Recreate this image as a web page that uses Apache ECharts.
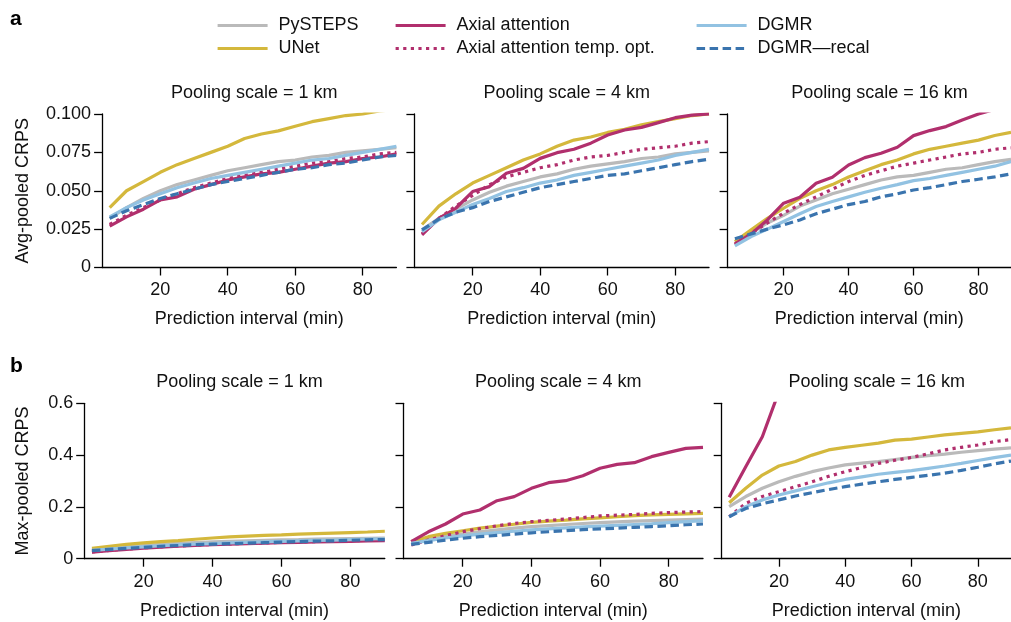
<!DOCTYPE html>
<html>
<head>
<meta charset="utf-8">
<script src="https://cdn.jsdelivr.net/npm/echarts@6/dist/echarts.min.js"></script>
<style>
  html, body { margin: 0; padding: 0; background: #ffffff; }
  #chart { width: 1011px; height: 622px; }
</style>
</head>
<body>
<div id="chart"></div>
<script>
// Prediction lead times (minutes) and the axis ticks shown
const minutes = [5, 10, 15, 20, 25, 30, 35, 40, 45, 50, 55, 60, 65, 70, 75, 80, 85, 90];
const tickMinutes = [20, 40, 60, 80];
const modelNames = ['PySTEPS', 'UNet', 'Axial attention', 'Axial attention temp. opt.', 'DGMR', 'DGMR\u2014recal'];
const scaleTitles = ['Pooling scale = 1 km', 'Pooling scale = 4 km', 'Pooling scale = 16 km'];

// (a) Avg-pooled CRPS, pooling scale 1 km
const avg1_pysteps = [0.032, 0.039, 0.045, 0.050, 0.054, 0.057, 0.060, 0.063, 0.065, 0.067, 0.069, 0.070, 0.072, 0.073, 0.075, 0.076, 0.077, 0.078];
const avg1_unet    = [0.039, 0.050, 0.056, 0.062, 0.067, 0.071, 0.075, 0.079, 0.084, 0.087, 0.089, 0.092, 0.095, 0.097, 0.099, 0.100, 0.102, 0.103];
const avg1_axial   = [0.027, 0.033, 0.038, 0.044, 0.046, 0.051, 0.054, 0.057, 0.059, 0.061, 0.062, 0.064, 0.066, 0.068, 0.069, 0.071, 0.072, 0.074];
const avg1_axialT  = [0.028, 0.034, 0.039, 0.044, 0.048, 0.052, 0.055, 0.058, 0.060, 0.062, 0.064, 0.066, 0.068, 0.069, 0.071, 0.072, 0.074, 0.075];
const avg1_dgmr    = [0.033, 0.039, 0.044, 0.048, 0.052, 0.055, 0.058, 0.060, 0.062, 0.064, 0.066, 0.068, 0.070, 0.071, 0.073, 0.075, 0.077, 0.079];
const avg1_recal   = [0.032, 0.037, 0.041, 0.045, 0.048, 0.051, 0.054, 0.056, 0.058, 0.060, 0.062, 0.064, 0.065, 0.067, 0.068, 0.070, 0.072, 0.073];

// (a) Avg-pooled CRPS, pooling scale 4 km
const avg4_pysteps = [0.0245, 0.032, 0.038, 0.044, 0.049, 0.053, 0.056, 0.059, 0.061, 0.064, 0.066, 0.0675, 0.069, 0.071, 0.072, 0.074, 0.075, 0.076];
const avg4_unet    = [0.028, 0.040, 0.048, 0.055, 0.060, 0.065, 0.070, 0.074, 0.079, 0.083, 0.085, 0.088, 0.090, 0.093, 0.095, 0.097, 0.099, 0.100];
const avg4_axial   = [0.0213, 0.032, 0.0386, 0.0495, 0.0527, 0.0614, 0.0646, 0.0711, 0.0748, 0.077, 0.081, 0.0863, 0.0896, 0.0913, 0.0944, 0.0976, 0.0993, 0.100];
const avg4_axialT  = [0.022, 0.032, 0.040, 0.047, 0.054, 0.059, 0.062, 0.065, 0.067, 0.070, 0.072, 0.073, 0.075, 0.077, 0.078, 0.079, 0.081, 0.082];
const avg4_dgmr    = [0.0234, 0.031, 0.036, 0.041, 0.045, 0.0495, 0.052, 0.055, 0.057, 0.060, 0.062, 0.064, 0.066, 0.068, 0.070, 0.073, 0.075, 0.077];
const avg4_recal   = [0.0245, 0.0315, 0.036, 0.039, 0.043, 0.046, 0.049, 0.052, 0.054, 0.056, 0.058, 0.060, 0.061, 0.063, 0.065, 0.067, 0.069, 0.0705];

// (a) Avg-pooled CRPS, pooling scale 16 km
const avg16_pysteps = [0.0158, 0.0223, 0.029, 0.034, 0.040, 0.044, 0.048, 0.051, 0.054, 0.057, 0.059, 0.060, 0.062, 0.064, 0.065, 0.067, 0.069, 0.0705];
const avg16_unet    = [0.0169, 0.0245, 0.032, 0.0386, 0.045, 0.050, 0.054, 0.059, 0.063, 0.067, 0.070, 0.074, 0.077, 0.079, 0.081, 0.083, 0.086, 0.088];
const avg16_axial   = [0.0154, 0.0219, 0.031, 0.0419, 0.0458, 0.0549, 0.0588, 0.0668, 0.0716, 0.0744, 0.0783, 0.0859, 0.0892, 0.0918, 0.0961, 0.100, 0.103, 0.106];
const avg16_axialT  = [0.0148, 0.0223, 0.029, 0.0354, 0.041, 0.046, 0.051, 0.056, 0.060, 0.063, 0.066, 0.068, 0.070, 0.072, 0.074, 0.075, 0.077, 0.078];
const avg16_dgmr    = [0.0141, 0.0202, 0.025, 0.030, 0.035, 0.0397, 0.043, 0.046, 0.049, 0.0516, 0.054, 0.0566, 0.058, 0.060, 0.062, 0.064, 0.066, 0.069];
const avg16_recal   = [0.0187, 0.0219, 0.025, 0.0278, 0.031, 0.035, 0.038, 0.041, 0.043, 0.046, 0.048, 0.0505, 0.052, 0.054, 0.056, 0.0575, 0.059, 0.061];

// (b) Max-pooled CRPS, pooling scale 1 km
const max1_pysteps = [0.034, 0.040, 0.046, 0.051, 0.055, 0.059, 0.062, 0.065, 0.067, 0.069, 0.071, 0.073, 0.074, 0.076, 0.077, 0.078, 0.079, 0.080];
const max1_unet    = [0.040, 0.048, 0.055, 0.061, 0.066, 0.070, 0.075, 0.080, 0.084, 0.087, 0.090, 0.092, 0.095, 0.097, 0.099, 0.101, 0.103, 0.106];
const max1_axial   = [0.025, 0.031, 0.036, 0.041, 0.045, 0.048, 0.051, 0.054, 0.056, 0.058, 0.060, 0.062, 0.063, 0.065, 0.066, 0.067, 0.069, 0.070];
const max1_axialT  = [0.026, 0.032, 0.037, 0.042, 0.046, 0.049, 0.052, 0.055, 0.057, 0.059, 0.061, 0.063, 0.065, 0.066, 0.068, 0.069, 0.071, 0.072];
const max1_dgmr    = [0.032, 0.037, 0.042, 0.046, 0.050, 0.053, 0.056, 0.058, 0.061, 0.063, 0.065, 0.067, 0.069, 0.071, 0.072, 0.074, 0.076, 0.077];
const max1_recal   = [0.031, 0.036, 0.040, 0.044, 0.048, 0.051, 0.054, 0.056, 0.058, 0.060, 0.062, 0.064, 0.066, 0.068, 0.069, 0.071, 0.073, 0.074];

// (b) Max-pooled CRPS, pooling scale 4 km
const max4_pysteps = [0.062, 0.075, 0.086, 0.095, 0.104, 0.111, 0.118, 0.124, 0.128, 0.132, 0.136, 0.139, 0.142, 0.145, 0.147, 0.149, 0.151, 0.153];
const max4_unet    = [0.066, 0.085, 0.098, 0.108, 0.118, 0.126, 0.133, 0.140, 0.145, 0.149, 0.154, 0.158, 0.162, 0.166, 0.169, 0.171, 0.173, 0.175];
const max4_axial   = [0.0657, 0.104, 0.134, 0.1725, 0.188, 0.224, 0.2395, 0.2717, 0.2936, 0.3013, 0.3206, 0.349, 0.3644, 0.3708, 0.394, 0.4107, 0.426, 0.430];
const max4_axialT  = [0.053, 0.072, 0.089, 0.104, 0.116, 0.127, 0.136, 0.143, 0.148, 0.153, 0.159, 0.165, 0.168, 0.171, 0.175, 0.178, 0.180, 0.182];
const max4_dgmr    = [0.059, 0.070, 0.080, 0.088, 0.095, 0.101, 0.106, 0.111, 0.115, 0.119, 0.123, 0.126, 0.129, 0.132, 0.135, 0.139, 0.143, 0.147];
const max4_recal   = [0.055, 0.063, 0.072, 0.079, 0.085, 0.090, 0.095, 0.100, 0.104, 0.108, 0.112, 0.115, 0.118, 0.121, 0.124, 0.127, 0.131, 0.134];

// (b) Max-pooled CRPS, pooling scale 16 km (axial attention leaves the axis after 20 min)
const max16_pysteps = [0.201, 0.240, 0.272, 0.297, 0.318, 0.336, 0.350, 0.362, 0.369, 0.375, 0.383, 0.391, 0.398, 0.404, 0.411, 0.417, 0.423, 0.428];
const max16_unet    = [0.216, 0.272, 0.323, 0.358, 0.375, 0.400, 0.420, 0.430, 0.438, 0.446, 0.458, 0.462, 0.470, 0.478, 0.484, 0.490, 0.498, 0.505];
const max16_axial   = [0.237, 0.355, 0.471, 0.645];
const max16_axialT  = [0.162, 0.214, 0.240, 0.259, 0.278, 0.297, 0.318, 0.336, 0.352, 0.368, 0.380, 0.391, 0.405, 0.420, 0.430, 0.439, 0.452, 0.460];
const max16_dgmr    = [0.162, 0.201, 0.227, 0.246, 0.262, 0.278, 0.293, 0.306, 0.316, 0.326, 0.333, 0.340, 0.349, 0.358, 0.368, 0.379, 0.390, 0.400];
const max16_recal   = [0.162, 0.194, 0.212, 0.227, 0.242, 0.255, 0.267, 0.278, 0.288, 0.297, 0.306, 0.314, 0.322, 0.330, 0.341, 0.353, 0.366, 0.377];

const panels = [
  [avg1_pysteps, avg1_unet, avg1_axial, avg1_axialT, avg1_dgmr, avg1_recal],
  [avg4_pysteps, avg4_unet, avg4_axial, avg4_axialT, avg4_dgmr, avg4_recal],
  [avg16_pysteps, avg16_unet, avg16_axial, avg16_axialT, avg16_dgmr, avg16_recal],
  [max1_pysteps, max1_unet, max1_axial, max1_axialT, max1_dgmr, max1_recal],
  [max4_pysteps, max4_unet, max4_axial, max4_axialT, max4_dgmr, max4_recal],
  [max16_pysteps, max16_unet, max16_axial, max16_axialT, max16_dgmr, max16_recal]
];

// Line style per model
const FONT = '"Liberation Sans", Arial, Helvetica, sans-serif';
const INK = '#111111';
const LINE_W = 3.2;
const modelStyles = [
  { color: '#bababa', type: 'solid' },
  { color: '#d4b83c', type: 'solid' },
  { color: '#b12f6d', type: 'solid' },
  { color: '#b12f6d', type: [3.2, 4.4] },
  { color: '#92c2e2', type: 'solid' },
  { color: '#3a74ae', type: [8.5, 4.5] }
];

// Plot areas: three per row
const grids = [
  { left: 102.1, top: 114, width: 294.3, height: 153.5 },
  { left: 414.4, top: 114, width: 294.6, height: 153.5 },
  { left: 727.6, top: 114, width: 293.8, height: 153.5 },
  { left: 84.2,  top: 403.3, width: 300.6, height: 155.4 },
  { left: 403.5, top: 403.3, width: 299.5, height: 155.4 },
  { left: 721.7, top: 403.3, width: 300.0, height: 155.4 }
];

const xAxes = grids.map((g, i) => ({
  type: 'value', gridIndex: i, min: 2.75, max: 90,
  axisLine: { show: true, lineStyle: { color: '#000', width: 1.3 } },
  axisTick: { show: true, customValues: tickMinutes, length: 8, lineStyle: { color: '#000', width: 1.3 } },
  axisLabel: { customValues: tickMinutes, margin: 14, fontSize: 18, color: INK, fontFamily: FONT },
  splitLine: { show: false },
  name: 'Prediction interval (min)', nameLocation: 'middle', nameGap: 43,
  nameTextStyle: { fontSize: 18, color: INK, fontFamily: FONT }
}));

const yAxes = grids.map((g, i) => {
  const rowA = i < 3;
  const first = i % 3 === 0;
  return {
    type: 'value', gridIndex: i, min: 0,
    max: rowA ? 0.1 : 0.6, interval: rowA ? 0.025 : 0.2,
    axisLine: { show: true, lineStyle: { color: '#000', width: 1.3 } },
    axisTick: { show: true, length: 8, lineStyle: { color: '#000', width: 1.3 } },
    axisLabel: {
      show: first, margin: 11, fontSize: 18, color: INK, fontFamily: FONT,
      formatter: v => (v === 0 ? '0' : v.toFixed(rowA ? 3 : 1))
    },
    splitLine: { show: false },
    name: first ? (rowA ? 'Avg-pooled CRPS' : 'Max-pooled CRPS') : '',
    nameLocation: 'middle', nameRotate: 90, nameGap: rowA ? 70 : 52,
    nameTextStyle: { fontSize: 18, color: INK, fontFamily: FONT }
  };
});

const series = [];
panels.forEach((panel, p) => {
  panel.forEach((values, m) => {
    series.push({
      name: modelNames[m], type: 'line', xAxisIndex: p, yAxisIndex: p,
      data: values.map((v, k) => [minutes[k], v]),
      symbol: 'none', clip: true, animation: false,
      lineStyle: { color: modelStyles[m].color, width: LINE_W, type: modelStyles[m].type, cap: 'butt' },
      itemStyle: { color: modelStyles[m].color }
    });
  });
});

const titles = grids.map((g, i) => ({
  text: scaleTitles[i % 3], left: g.left + g.width / 2, top: i < 3 ? 79 : 368,
  textAlign: 'center',
  textStyle: { fontSize: 18, fontWeight: 'normal', color: INK, fontFamily: FONT }
}));

// Legend: three columns of two entries, line samples only (symbol hidden)
const legendCommon = {
  orient: 'vertical', top: 15.5, padding: 0, itemWidth: 50, itemHeight: 14, itemGap: 3,
  selectedMode: false,
  itemStyle: { opacity: 0 },
  lineStyle: { width: LINE_W },
  textStyle: { fontSize: 18, color: INK, fontFamily: FONT, lineHeight: 20, padding: [0, 0, 0, 6] }
};
const legends = [
  Object.assign({}, legendCommon, { left: 216, data: [modelNames[0], modelNames[1]] }),
  Object.assign({}, legendCommon, { left: 394, data: [modelNames[2], modelNames[3]] }),
  Object.assign({}, legendCommon, { left: 695, data: [modelNames[4], modelNames[5]] })
];

const chart = echarts.init(document.getElementById('chart'), null, { renderer: 'canvas' });
chart.setOption({
  backgroundColor: '#ffffff',
  animation: false,
  title: titles,
  legend: legends,
  grid: grids,
  xAxis: xAxes,
  yAxis: yAxes,
  series: series,
  graphic: [
    { type: 'text', left: 10, top: 9, style: { text: 'a', fontSize: 21, fontWeight: 'bold', fill: '#000', fontFamily: FONT } },
    { type: 'text', left: 10, top: 356, style: { text: 'b', fontSize: 21, fontWeight: 'bold', fill: '#000', fontFamily: FONT } }
  ]
});
</script>
</body>
</html>
